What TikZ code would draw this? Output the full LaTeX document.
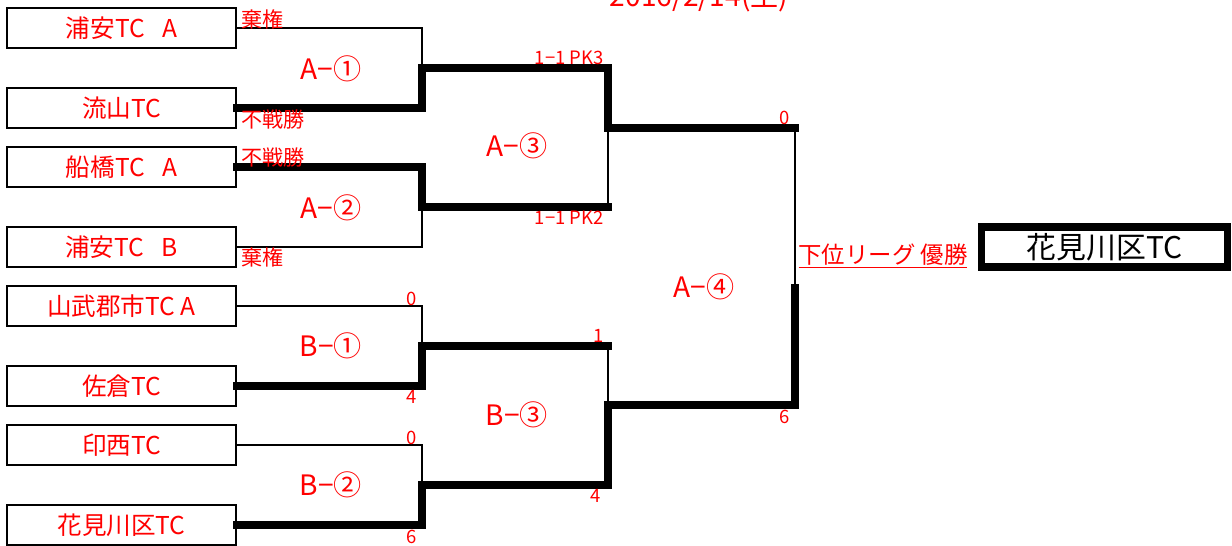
\documentclass[tikz,border=0pt]{standalone}
\usepackage{fontspec}
\setmainfont{Noto Sans CJK JP}
\begin{document}
\begin{tikzpicture}[x=0.02cm,y=-0.02cm,line join=miter]
	\tikzset{
		team/.style={draw,line width=0.9pt,minimum width=4.58cm,minimum height=0.8cm,inner sep=0pt,text=red,font=\fontsize{14}{15}\selectfont},
		champ/.style={draw,line width=4pt,minimum width=4.94cm,minimum height=0.8cm,inner sep=0pt,font=\fontsize{17}{18}\selectfont},
		tag/.style={text=red,inner sep=0pt,anchor=west,font=\fontsize{12}{13}\selectfont},
		score/.style={text=red,inner sep=0pt,font=\fontsize{10.5}{11}\selectfont},
		match/.style={text=red,inner sep=0pt,font=\fontsize{16}{18}\selectfont},
		lose/.style={line width=1.6pt},
		win/.style={line width=4pt,line cap=rect}
	}
	\useasboundingbox (0,0) rectangle (1232,545);
	\node[match,anchor=base] (date) at (699,6) {2016/2/14(土)};
	\node[team] (t1) at (121.5,28) {浦安TC\hspace{0.7em}A};
	\node[team] (t2) at (121.5,108) {流山TC};
	\node[team] (t3) at (121.5,167) {船橋TC\hspace{0.7em}A};
	\node[team] (t4) at (121.5,247) {浦安TC\hspace{0.7em}B};
	\node[team] (t5) at (121.5,306) {山武郡市TC A};
	\node[team] (t6) at (121.5,386) {佐倉TC};
	\node[team] (t7) at (121.5,445) {印西TC};
	\node[team] (t8) at (121.5,525) {花見川区TC};
	\coordinate (a1) at (422,68);
	\coordinate (a2) at (422,207);
	\coordinate (b1) at (422,346);
	\coordinate (b2) at (422,485);
	\coordinate (a3t) at (608,68);
	\coordinate (a3) at (608,128);
	\coordinate (a3b) at (608,207);
	\coordinate (b3t) at (608,346);
	\coordinate (b3) at (608,405);
	\coordinate (b3b) at (608,485);
	\coordinate (f1) at (795,128);
	\coordinate (fm) at (795,288);
	\coordinate (f2) at (795,405);
	\draw[lose] (t1.east) -| (a1);
	\draw[win] (t2.east) -| (a1);
	\draw[win] (t3.east) -| (a2);
	\draw[lose] (t4.east) -| (a2);
	\draw[lose] (t5.east) -| (b1);
	\draw[win] (t6.east) -| (b1);
	\draw[lose] (t7.east) -| (b2);
	\draw[win] (t8.east) -| (b2);
	\draw[win] (a1) -- (a3t) -- (a3) -- (f1);
	\draw[win] (a2) -- (a3b);
	\draw[lose] (a3b) -- (a3);
	\draw[win] (b1) -- (b3t);
	\draw[lose] (b3t) -- (b3);
	\draw[win] (b2) -- (b3b) -- (b3) -- (f2) -- (fm);
	\draw[lose] (f1) -- (fm);
	\node[tag] (l1) at (241,19) {棄権};
	\node[tag] (l2) at (241,119) {不戦勝};
	\node[tag] (l3) at (241,157) {不戦勝};
	\node[tag] (l4) at (241,257) {棄権};
	\node[score] (s1) at (412,299) {0};
	\node[score] (s2) at (412,397) {4};
	\node[score] (s3) at (412,438) {0};
	\node[score] (s4) at (412,537) {6};
	\node[score,anchor=east] (s5) at (604,58) {1−1 PK3};
	\node[score,anchor=east] (s6) at (604,218) {1−1 PK2};
	\node[score] (s7) at (599,336) {1};
	\node[score] (s8) at (596,496) {4};
	\node[score] (s9) at (785,118) {0};
	\node[score] (s10) at (785,417) {6};
	\node[match] (m1) at (331,69) {A−①};
	\node[match] (m2) at (331,208) {A−②};
	\node[match] (m3) at (517,146) {A−③};
	\node[match] (m4) at (331,346) {B−①};
	\node[match] (m5) at (331,485) {B−②};
	\node[match] (m6) at (517,415) {B−③};
	\node[match] (m7) at (704,287) {A−④};
	\node[inner sep=0pt,text=red,font=\fontsize{13.3}{14}\selectfont] (lg) at (883,256) {\underline{下位リーグ 優勝}};
	\node[champ] (champion) at (1104.5,247) {花見川区TC};
\end{tikzpicture}
\end{document}
